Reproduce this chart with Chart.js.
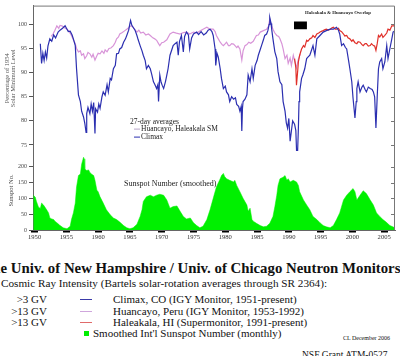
<!DOCTYPE html>
<html><head><meta charset="utf-8">
<script src="https://cdn.jsdelivr.net/npm/chart.js@4"></script>
<style>
html,body{margin:0;padding:0;background:#fff;}
#wrap{position:relative;width:400px;height:356px;overflow:hidden;font-family:"Liberation Serif","Times New Roman",serif;color:#111;}
#c{position:absolute;left:0;top:0;}
.t{position:absolute;white-space:nowrap;line-height:12px;font-size:11px;}
.sw{position:absolute;height:1px;}
</style></head><body>
<div id="wrap">
<canvas id="c" width="400" height="245"></canvas>
<div class="t" style="left:-17.5px;top:260px;font-size:14.8px;font-weight:bold;line-height:16px;">The Univ. of New Hampshire / Univ. of Chicago Neutron Monitors</div>
<div class="t" style="left:1px;top:277px;font-size:11.2px;">Cosmic Ray Intensity (Bartels solar-rotation averages through SR 2364):</div>
<div class="t" style="left:0;width:47px;text-align:right;top:293px;">&gt;3 GV</div>
<div class="t" style="left:0;width:47px;text-align:right;top:305px;">&gt;13 GV</div>
<div class="t" style="left:0;width:47px;text-align:right;top:316px;">&gt;13 GV</div>
<div class="sw" style="left:80px;width:12px;top:299px;background:#3a3aa8;"></div>
<div class="sw" style="left:80px;width:12px;top:311px;background:#cfa6dc;"></div>
<div class="sw" style="left:80px;width:12px;top:322px;background:#e06a6a;"></div>
<div class="t" style="left:113px;top:293px;">Climax, CO (IGY Monitor, 1951-present)</div>
<div class="t" style="left:113px;top:305px;">Huancayo, Peru (IGY Monitor, 1953-1992)</div>
<div class="t" style="left:113px;top:316px;">Haleakala, HI (Supermonitor, 1991-present)</div>
<div style="position:absolute;left:84px;top:331px;width:5px;height:5px;background:#00ee00;"></div>
<div class="t" style="left:93px;top:327px;">Smoothed Int'l Sunspot Number (monthly)</div>
<div class="t" style="left:343px;top:335px;font-size:6px;line-height:6px;">CL December 2006</div>
<div class="t" style="left:302px;top:349px;font-size:9.5px;">NSF Grant ATM-0527</div>
</div>
<script>
// ---- data ----
const xTickYears = [1950,1955,1960,1965,1970,1975,1980,1985,1990,1995,2000,2005];
const pctTicks = [75,80,85,90,95,100];
const sunTicks = [0,50,100,150,200];

const climaxYears = [1950.9,1951.1,1951.3,1951.5,1951.7,1951.9,1952.1,1952.4,1952.7,1953.0,1953.3,1953.7,1954.0,1954.4,1954.8,1955.1,1955.3,1955.6,1955.9,1956.1,1956.4,1956.6,1956.9,1957.2,1957.4,1957.7,1957.9,1958.1,1958.2,1958.4,1958.7,1958.9,1959.1,1959.3,1959.5,1959.6,1959.9,1960.1,1960.3,1960.6,1960.8,1961.1,1961.4,1961.6,1961.9,1962.1,1962.4,1962.7,1962.9,1963.2,1963.4,1963.7,1964.0,1964.3,1964.5,1964.8,1965.0,1965.1,1965.3,1965.5,1965.8,1966.1,1966.3,1966.6,1966.9,1967.1,1967.4,1967.6,1967.9,1968.2,1968.4,1968.7,1968.9,1969.2,1969.4,1969.5,1969.7,1969.9,1970.1,1970.3,1970.6,1970.8,1971.0,1971.3,1971.6,1971.8,1972.1,1972.4,1972.6,1972.8,1973.1,1973.4,1973.6,1973.9,1974.2,1974.4,1974.7,1975.0,1975.5,1975.8,1976.2,1976.6,1977.0,1977.3,1977.6,1977.9,1978.1,1978.4,1978.5,1978.7,1978.9,1979.2,1979.4,1979.7,1980.0,1980.2,1980.5,1980.7,1981.0,1981.3,1981.6,1981.8,1982.1,1982.3,1982.5,1982.6,1982.7,1982.8,1983.1,1983.4,1983.6,1983.9,1984.2,1984.4,1984.7,1985.0,1985.2,1985.5,1985.7,1986.0,1986.2,1986.5,1986.7,1986.9,1987.0,1987.2,1987.3,1987.5,1987.8,1988.1,1988.3,1988.6,1988.9,1989.1,1989.4,1989.6,1989.8,1990.0,1990.2,1990.4,1990.6,1990.9,1991.1,1991.3,1991.5,1991.6,1991.7,1992.0,1992.2,1992.5,1992.8,1993.0,1993.3,1993.6,1993.8,1994.1,1994.4,1994.9,1995.4,1995.9,1996.5,1997.0,1997.5,1997.8,1998.0,1998.3,1998.6,1998.9,1999.1,1999.4,1999.6,1999.9,2000.1,2000.3,2000.4,2000.6,2000.7,2000.9,2001.2,2001.5,2001.7,2002.0,2002.2,2002.5,2002.8,2003.1,2003.3,2003.5,2003.7,2003.9,2004.1,2004.3,2004.6,2004.8,2005.1,2005.4,2005.6,2005.9,2006.2,2006.4,2006.6];
const climaxValues = [96.0,91.9,94.0,92.5,94.3,93.0,95.5,97.0,96.5,97.8,97.2,98.4,98.8,99.2,99.7,99.0,98.5,98.6,97.8,97.0,95.6,90.8,85.4,84.0,82.0,80.8,79.5,77.6,81.5,82.8,81.5,83.5,82.0,83.8,77.4,82.5,81.8,83.5,82.6,85.0,86.0,85.3,87.5,86.0,88.8,88.5,90.8,91.5,93.9,94.0,94.9,95.2,96.3,97.0,97.7,98.8,100.2,100.8,99.8,99.4,98.8,97.7,96.8,95.6,94.5,93.6,92.5,90.8,91.5,90.8,89.8,88.1,87.6,86.7,87.5,84.0,89.5,88.0,87.3,86.7,88.2,89.5,90.8,93.6,94.8,95.6,96.0,96.3,93.6,96.5,97.7,94.3,97.5,98.4,97.8,94.9,97.2,98.0,98.4,97.9,98.5,97.8,98.2,98.8,99.0,98.5,97.7,94.9,91.5,94.0,93.2,90.8,88.8,86.7,87.2,86.0,85.4,84.0,85.0,84.5,84.8,83.4,83.0,82.0,83.0,77.9,82.5,84.0,84.5,85.4,89.5,88.1,90.8,88.8,91.5,92.5,93.6,94.8,95.6,96.8,97.7,98.0,98.7,100.0,101.4,100.2,99.0,97.0,94.3,92.9,90.2,88.1,87.5,84.0,82.0,79.6,78.5,80.5,75.8,77.9,80.0,79.3,78.0,70.5,78.5,84.0,86.0,88.8,89.5,90.8,92.9,93.2,93.6,94.8,95.6,93.6,97.0,97.7,98.4,98.7,99.0,99.0,99.4,98.8,98.0,95.6,96.0,95.2,94.9,92.5,90.8,88.1,84.7,82.0,80.6,84.0,86.7,88.1,86.0,87.0,87.4,86.5,86.0,87.0,86.7,86.5,86.0,85.0,78.5,85.0,90.8,92.2,92.9,90.8,92.2,95.6,92.9,95.0,97.0,98.4,98.6];

const huancayoYears = [1952.6,1952.9,1953.2,1953.5,1953.8,1954.0,1954.3,1954.7,1955.1,1955.4,1955.8,1956.1,1956.4,1956.6,1956.9,1957.2,1957.4,1957.7,1957.9,1958.2,1958.4,1958.7,1959.0,1959.2,1959.5,1959.8,1960.0,1960.3,1960.6,1960.9,1961.1,1961.4,1961.7,1962.0,1962.4,1962.7,1962.9,1963.2,1963.4,1963.8,1964.1,1964.5,1964.8,1965.0,1965.3,1965.6,1966.1,1966.4,1966.7,1967.1,1967.5,1967.9,1968.2,1968.6,1968.9,1969.2,1969.5,1969.7,1970.0,1970.3,1970.8,1971.3,1971.8,1972.3,1972.9,1973.4,1973.9,1974.4,1975.0,1975.5,1976.0,1976.5,1977.1,1977.6,1978.1,1978.4,1978.6,1978.9,1979.2,1979.5,1979.7,1980.0,1980.2,1980.5,1980.7,1981.0,1981.3,1981.6,1981.8,1982.0,1982.3,1982.6,1982.8,1983.1,1983.4,1983.7,1984.0,1984.4,1984.9,1985.2,1985.5,1986.0,1986.5,1986.8,1987.0,1987.2,1987.5,1987.8,1988.1,1988.4,1988.6,1988.9,1989.1,1989.4,1989.7,1989.9,1990.2,1990.4,1990.7,1990.9,1991.2,1991.5,1991.8];
const huancayoValues = [97.5,98.0,98.8,99.7,99.2,99.8,99.7,99.3,99.0,98.6,97.7,96.8,96.0,95.0,94.3,94.5,93.6,93.9,92.9,93.5,94.2,93.9,93.2,93.8,92.6,93.5,94.0,93.9,94.5,94.0,94.7,94.3,95.0,95.1,95.6,96.3,97.0,97.4,98.0,98.3,98.6,99.0,99.3,99.6,99.7,99.2,98.4,98.8,98.2,98.4,97.8,98.0,97.7,97.2,97.0,96.7,96.0,95.6,96.2,96.3,96.8,98.0,98.4,98.2,98.0,98.3,98.4,98.0,98.4,98.2,98.6,99.0,99.4,99.0,99.0,98.5,97.7,97.0,96.3,95.8,95.6,96.0,96.3,95.6,95.6,96.0,95.9,95.5,95.2,95.5,94.9,92.6,94.5,95.6,95.8,96.3,96.1,96.5,97.7,97.8,98.4,98.7,99.0,99.6,101.1,100.0,99.0,98.2,97.7,97.5,97.0,96.0,94.9,92.9,93.6,91.9,93.0,91.5,93.6,92.5,91.0,92.8,93.8];

const haleakalaYears = [1990.9,1991.1,1991.2,1991.4,1991.5,1991.7,1992.0,1992.3,1992.5,1992.8,1993.0,1993.3,1993.6,1993.8,1994.1,1994.4,1994.7,1994.9,1995.2,1995.4,1995.7,1995.9,1996.2,1996.5,1996.8,1997.0,1997.3,1997.5,1997.8,1998.0,1998.3,1998.6,1998.8,1999.1,1999.3,1999.6,1999.9,2000.1,2000.4,2000.7,2000.9,2001.2,2001.5,2001.7,2002.0,2002.2,2002.5,2002.8,2003.0,2003.3,2003.5,2003.7,2003.9,2004.1,2004.3,2004.6,2004.8,2005.1,2005.4,2005.6,2005.9,2006.2,2006.5,2006.7];
const haleakalaValues = [92.9,91.0,87.4,90.5,92.2,93.6,94.9,95.6,95.3,96.7,96.5,97.0,97.2,97.7,97.3,98.0,98.2,98.4,98.6,98.7,98.9,99.0,98.8,99.0,99.3,99.4,99.0,99.0,99.2,98.7,98.5,98.0,97.6,97.7,97.2,97.0,96.5,96.8,96.2,96.0,96.4,96.3,95.8,95.6,96.0,96.0,95.5,95.6,96.0,95.6,95.5,94.6,96.0,97.7,97.4,98.0,97.3,97.7,98.2,99.0,98.8,99.7,99.7,99.8];

const sunspotYears = [1949.8,1950.1,1950.3,1950.6,1950.9,1951.1,1951.4,1951.7,1951.9,1952.2,1952.4,1952.7,1953.0,1953.2,1953.5,1953.8,1954.0,1954.3,1954.5,1955.1,1955.6,1955.8,1956.1,1956.4,1956.6,1956.9,1957.2,1957.4,1957.7,1957.8,1957.9,1958.2,1958.5,1958.7,1959.0,1959.3,1959.5,1959.8,1960.0,1960.3,1960.8,1961.3,1961.9,1962.4,1962.9,1963.4,1964.0,1964.5,1965.0,1965.5,1966.1,1966.6,1966.9,1967.1,1967.6,1968.2,1968.7,1969.2,1969.7,1970.3,1970.8,1971.3,1971.8,1972.4,1972.9,1973.4,1973.9,1974.5,1975.0,1975.5,1976.0,1976.5,1977.1,1977.6,1978.1,1978.6,1979.2,1979.4,1979.7,1979.9,1980.2,1980.7,1981.3,1981.5,1981.8,1982.3,1982.8,1983.4,1983.6,1983.9,1984.2,1984.4,1984.9,1985.5,1986.0,1986.5,1987.0,1987.5,1987.8,1988.1,1988.3,1988.6,1989.1,1989.4,1989.7,1989.9,1990.2,1990.7,1991.2,1991.5,1991.7,1992.3,1992.8,1993.3,1993.8,1994.4,1994.9,1995.4,1995.9,1996.5,1997.0,1997.5,1998.0,1998.6,1999.1,1999.6,2000.1,2000.4,2000.7,2001.2,2001.7,2002.2,2002.8,2003.3,2003.8,2004.3,2004.8,2005.3,2005.9,2006.7];
const sunspotValues = [110,104,90,73,68,85,79,70,64,54,38,35,33,28,23,18,14,10,7,4,12,33,54,85,136,172,177,208,230,225,193,188,190,182,176,172,157,126,121,105,85,64,48,38,33,25,14,7,4,7,18,43,64,90,105,110,105,110,113,110,95,69,74,76,59,43,35,38,23,14,7,12,33,64,100,136,162,172,179,169,162,157,152,157,141,121,100,79,59,69,33,28,21,14,10,12,21,43,74,110,141,162,167,172,157,162,152,157,152,141,121,95,79,64,43,33,23,14,10,7,14,33,54,95,110,121,131,121,95,110,124,115,95,79,54,43,33,25,14,7];

const overlapYears = [1990.8,1992.85];
const overlapTop = [100.6,100.6];
const overlapBottom = [99.0,99.0];

const pts = (xs, ys) => xs.map((x, i) => ({x, y: ys[i]}));
const SERIF = '"Liberation Serif","Times New Roman",serif';

const framePlugin = {
  id: 'frame',
  afterDraw(chart) {
    const {ctx, chartArea: a, scales} = chart;
    ctx.save();
    ctx.strokeStyle = '#777';
    ctx.lineWidth = 1;
    ctx.beginPath();
    ctx.moveTo(a.left, a.top + 0.5);
    ctx.lineTo(a.right - 0.5, a.top + 0.5);
    ctx.lineTo(a.right - 0.5, a.bottom);
    ctx.stroke();
    ctx.beginPath();
    pctTicks.forEach(v => { const y = Math.round(scales.yPct.getPixelForValue(v)) + 0.5; ctx.moveTo(a.right - 4, y); ctx.lineTo(a.right, y); });
    sunTicks.slice(1).forEach(v => { const y = Math.round(scales.ySun.getPixelForValue(v)) + 0.5; ctx.moveTo(a.right - 4, y); ctx.lineTo(a.right, y); });
    ctx.stroke();
    ctx.restore();
  }
};

const notesPlugin = {
  id: 'notes',
  afterDatasetsDraw(chart) {
    const {ctx, chartArea: a} = chart;
    ctx.save();
    ctx.fillStyle = '#222';
    ctx.textBaseline = 'middle';
    ctx.textAlign = 'left';
    ctx.font = 'bold 4.8px ' + SERIF;
    ctx.fillText('Haleakala & Huancayo Overlap', a.left + 272, a.top + 7);
    ctx.font = '7.5px ' + SERIF;
    ctx.fillText('27-day averages', a.left + 97, a.top + 116);
    ctx.fillText('Huancayo, Haleakala SM', a.left + 108, a.top + 123);
    ctx.fillText('Climax', a.left + 108, a.top + 131);
    ctx.lineWidth = 1;
    ctx.strokeStyle = '#b7a4c8';
    ctx.beginPath(); ctx.moveTo(a.left + 101, a.top + 123.5); ctx.lineTo(a.left + 107, a.top + 123.5); ctx.stroke();
    ctx.strokeStyle = '#2b2fb0';
    ctx.beginPath(); ctx.moveTo(a.left + 101, a.top + 131.5); ctx.lineTo(a.left + 107, a.top + 131.5); ctx.stroke();
    ctx.font = '8px ' + SERIF;
    ctx.fillText('Sunspot Number (smoothed)', a.left + 91, a.top + 178);
    ctx.restore();
  }
};

new Chart(document.getElementById('c'), {
  type: 'line',
  data: {
    datasets: [
      {label: 'overlapTop', data: pts(overlapYears, overlapTop), yAxisID: 'yPct', borderColor: '#000', backgroundColor: '#000', borderWidth: 0, pointRadius: 0, fill: '+1', order: 0},
      {label: 'overlapBottom', data: pts(overlapYears, overlapBottom), yAxisID: 'yPct', borderColor: '#000', borderWidth: 0, pointRadius: 0, fill: false, order: 0},
      {label: 'Climax', data: pts(climaxYears, climaxValues), yAxisID: 'yPct', borderColor: '#2b2fb0', borderWidth: 1.2, pointRadius: 0, tension: 0, fill: false, order: 1},
      {label: 'Haleakala', data: pts(haleakalaYears, haleakalaValues), yAxisID: 'yPct', borderColor: '#e0302a', borderWidth: 1.2, pointRadius: 0, tension: 0, fill: false, order: 2},
      {label: 'Huancayo', data: pts(huancayoYears, huancayoValues), yAxisID: 'yPct', borderColor: '#d894d8', borderWidth: 1.2, pointRadius: 0, tension: 0, fill: false, order: 3},
      {label: 'Sunspot', data: pts(sunspotYears, sunspotValues), yAxisID: 'ySun', borderColor: '#00f000', backgroundColor: '#00f000', borderWidth: 0.5, pointRadius: 0, tension: 0, fill: 'origin', order: 4}
    ]
  },
  options: {
    responsive: false,
    animation: false,
    devicePixelRatio: 1,
    layout: {padding: {top: 3, right: 5, left: 0, bottom: 0}},
    plugins: {legend: {display: false}, tooltip: {enabled: false}},
    scales: {
      x: {
        type: 'linear', position: 'bottom', min: 1949.75, max: 2006.7,
        afterBuildTicks: s => { s.ticks = xTickYears.map(v => ({value: v})); },
        afterFit: s => { s.height = 15; },
        grid: {drawOnChartArea: false, drawTicks: true, tickLength: 2.5, tickWidth: 7, tickColor: '#000'},
        border: {display: true, color: '#666', width: 1},
        ticks: {autoSkip: false, maxRotation: 0, padding: 1, color: '#333', font: {family: SERIF, size: 6.6}, callback: v => String(v)}
      },
      yPct: {
        type: 'linear', position: 'left', stack: 'left', stackWeight: 147, weight: 1,
        min: 73.77, max: 103.89,
        afterBuildTicks: s => { s.ticks = pctTicks.map(v => ({value: v})); },
        afterFit: s => { s.width = 33; },
        grid: {drawOnChartArea: false, drawTicks: true, tickLength: 4, color: '#555'},
        border: {display: true, color: '#666', width: 1},
        ticks: {padding: 2, color: '#444', font: {family: SERIF, size: 6}},
        title: {display: true, text: ['Percentage of 1954', 'Solar Minimum Level'], color: '#555', font: {family: SERIF, size: 6.5, lineHeight: 0.9}, padding: {top: 4.5, bottom: 0}}
      },
      ySun: {
        type: 'linear', position: 'left', stack: 'left', stackWeight: 80, weight: 0,
        min: 0, max: 250,
        afterBuildTicks: s => { s.ticks = sunTicks.map(v => ({value: v})); },
        afterFit: s => { s.width = 33; },
        grid: {drawOnChartArea: false, drawTicks: true, tickLength: 4, color: '#555'},
        border: {display: true, color: '#666', width: 1},
        ticks: {padding: 2, color: '#444', font: {family: SERIF, size: 6}},
        title: {display: true, text: 'Sunspot No.', color: '#444', font: {family: SERIF, size: 6.5, lineHeight: 1}, padding: {top: 8, bottom: 0}}
      }
    }
  },
  plugins: [framePlugin, notesPlugin]
});
</script>
</body></html>
